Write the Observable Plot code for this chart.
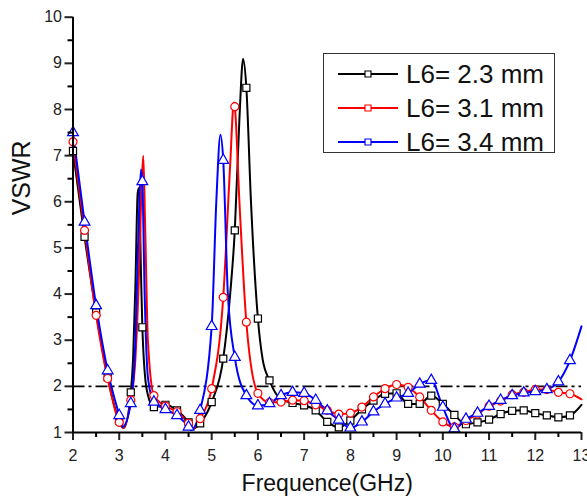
<!DOCTYPE html>
<html>
<head>
<meta charset="utf-8">
<script src="https://cdn.jsdelivr.net/npm/d3@7"></script>
<script src="https://cdn.jsdelivr.net/npm/@observablehq/plot@0.6"></script>
<style>
  html, body { margin: 0; padding: 0; background: #fff; }
  #wrap { position: relative; width: 587px; height: 499px; font-family: "Liberation Sans", Arial, sans-serif; }
  #legend { position: absolute; left: 323px; top: 53px; width: 230px; height: 98px; border: 1.5px solid #333; background: #fff; }
  .row { position: absolute; left: 0; height: 34px; width: 230px; }
  .row svg { position: absolute; left: 13px; top: 0; }
  .row span { position: absolute; left: 82px; top: 2px; font-size: 26px; line-height: 30px; color: #111; white-space: nowrap; }
</style>
</head>
<body>
<div id="wrap"></div>
<script>
// ---- data ----
const seriesNames = ["L6= 2.3 mm", "L6= 3.1 mm", "L6= 3.4 mm"];
const seriesColors = ["#000000", "#ff0000", "#0000ff"];
const seriesSymbols = ["square", "circle", "triangle"];

const freq23 = [2.0, 2.25, 2.5, 2.75, 3.0, 3.1, 3.25, 3.3, 3.35, 3.4, 3.43, 3.47, 3.5, 3.6, 3.75, 4.0, 4.25, 4.5, 4.6, 4.75, 5.0, 5.25, 5.4, 5.5, 5.6, 5.68, 5.75, 5.85, 6.0, 6.1, 6.25, 6.5, 6.75, 7.0, 7.25, 7.5, 7.75, 8.0, 8.25, 8.5, 8.75, 9.0, 9.25, 9.5, 9.75, 10.0, 10.25, 10.5, 10.75, 11.0, 11.25, 11.5, 11.75, 12.0, 12.25, 12.5, 12.75, 13.0];
const vswr23 = [7.1, 5.24, 3.6, 2.2, 1.25, 1.1, 1.87, 2.6, 4.2, 6.2, 6.3, 4.5, 3.28, 1.9, 1.55, 1.6, 1.48, 1.22, 1.08, 1.2, 1.66, 2.6, 4.0, 5.38, 7.8, 9.1, 8.47, 6.0, 3.47, 2.6, 2.13, 1.72, 1.64, 1.59, 1.48, 1.23, 1.11, 1.26, 1.5, 1.69, 1.84, 1.85, 1.62, 1.62, 1.8, 1.62, 1.38, 1.18, 1.22, 1.28, 1.4, 1.47, 1.48, 1.42, 1.37, 1.33, 1.37, 1.6];

const freq31 = [2.0, 2.25, 2.5, 2.75, 3.0, 3.08, 3.25, 3.35, 3.42, 3.48, 3.52, 3.56, 3.62, 3.75, 4.0, 4.25, 4.5, 4.6, 4.75, 5.0, 5.25, 5.4, 5.48, 5.5, 5.6, 5.75, 6.0, 6.25, 6.5, 6.75, 7.0, 7.25, 7.5, 7.75, 8.0, 8.25, 8.5, 8.75, 9.0, 9.25, 9.5, 9.75, 10.0, 10.25, 10.5, 10.75, 11.0, 11.25, 11.5, 11.75, 12.0, 12.25, 12.5, 12.75, 13.0];
const vswr31 = [7.3, 5.38, 3.54, 2.17, 1.22, 1.1, 1.7, 2.6, 4.2, 6.2, 7.0, 5.5, 3.0, 1.8, 1.57, 1.45, 1.2, 1.08, 1.3, 1.95, 3.93, 6.8, 8.15, 8.06, 6.0, 3.39, 1.85, 1.65, 1.66, 1.7, 1.69, 1.6, 1.48, 1.4, 1.42, 1.55, 1.77, 1.95, 2.04, 1.98, 1.77, 1.48, 1.23, 1.12, 1.26, 1.4, 1.57, 1.68, 1.82, 1.87, 1.93, 1.93, 1.87, 1.84, 1.72];

const freq34 = [2.0, 2.25, 2.5, 2.75, 3.0, 3.07, 3.25, 3.35, 3.42, 3.47, 3.5, 3.55, 3.62, 3.75, 4.0, 4.25, 4.5, 4.55, 4.75, 5.0, 5.1, 5.19, 5.25, 5.35, 5.5, 5.75, 6.0, 6.25, 6.5, 6.75, 7.0, 7.25, 7.5, 7.75, 8.0, 8.25, 8.5, 8.75, 9.0, 9.25, 9.5, 9.75, 10.0, 10.25, 10.5, 10.75, 11.0, 11.25, 11.5, 11.75, 12.0, 12.25, 12.5, 12.75, 13.0];
const vswr34 = [7.5, 5.56, 3.75, 2.34, 1.37, 1.12, 1.63, 3.0, 5.5, 6.7, 6.44, 4.0, 2.2, 1.66, 1.5, 1.37, 1.12, 1.05, 1.48, 3.3, 6.0, 7.45, 6.9, 4.0, 2.63, 1.8, 1.58, 1.63, 1.8, 1.87, 1.85, 1.7, 1.47, 1.27, 1.1, 1.23, 1.45, 1.62, 1.75, 1.85, 2.05, 2.13, 1.55, 1.08, 1.29, 1.42, 1.57, 1.7, 1.8, 1.86, 1.89, 1.93, 2.1, 2.56, 3.3];

const xTicks = [2, 3, 4, 5, 6, 7, 8, 9, 10, 11, 12, 13];
const yTicks = [1, 2, 3, 4, 5, 6, 7, 8, 9, 10];
const refLevel = [2];

// ---- build table ----
const freqs = [freq23, freq31, freq34];
const vals = [vswr23, vswr31, vswr34];
const rows = [];
seriesNames.forEach((s, i) => {
  freqs[i].forEach((f, j) => rows.push({series: s, f, v: vals[i][j]}));
});
const isMarker = f => Math.abs(f * 4 - Math.round(f * 4)) < 1e-6 && f < 12.9;
const markerRows = rows.filter(d => isMarker(d.f));

const font = "'Liberation Sans', Arial, sans-serif";

const chart = Plot.plot({
  width: 587,
  height: 499,
  marginLeft: 72.5,
  marginRight: 6,
  marginTop: 16.7,
  marginBottom: 67,
  style: {fontFamily: font, background: "white", overflow: "visible"},
  x: {domain: [2, 13]},
  y: {domain: [1, 10]},
  color: {domain: seriesNames, range: seriesColors},
  symbol: {domain: seriesNames, range: seriesSymbols},
  marks: [
    Plot.ruleY(refLevel, {stroke: "black", strokeWidth: 1.6, strokeDasharray: "12,4,3,4"}),
    Plot.line(rows, {x: "f", y: "v", z: "series", stroke: "series", strokeWidth: 2, curve: "monotone-x"}),
    Plot.dot(markerRows, {x: "f", y: "v", symbol: "series", stroke: "series", fill: "white", r: 4, strokeWidth: 1.2}),
    Plot.axisX({ticks: xTicks, tickSize: 8, tickPadding: 9, fontSize: 16, strokeWidth: 2, label: null, color: "#222"}),
    Plot.axisX({ticks: d3.range(2.5, 13, 1), tickSize: 5, tickFormat: () => "", strokeWidth: 2, label: null}),
    Plot.axisY({ticks: yTicks, tickSize: 8, tickPadding: 3, fontSize: 16, strokeWidth: 2, label: null, color: "#222"}),
    Plot.axisY({ticks: d3.range(1.5, 10, 1), tickSize: 5, tickFormat: () => "", strokeWidth: 2, label: null}),
    Plot.ruleX([2], {stroke: "black", strokeWidth: 2}),
    Plot.ruleY([1], {stroke: "black", strokeWidth: 2}),
    Plot.text(["Frequence(GHz)"], {frameAnchor: "bottom", textAnchor: "middle", lineAnchor: "middle", dy: 51, fontSize: 23, fill: "#111"}),
    Plot.text(["VSWR"], {frameAnchor: "left", textAnchor: "middle", lineAnchor: "middle", rotate: -90, dx: -51, dy: -47, fontSize: 25, fill: "#111"})
  ]
});

const wrap = document.getElementById("wrap");
wrap.appendChild(chart);

// ---- legend overlay ----
const legend = document.createElement("div");
legend.id = "legend";
const ns = "http://www.w3.org/2000/svg";
seriesNames.forEach((name, i) => {
  const row = document.createElement("div");
  row.className = "row";
  row.style.top = (3 + i * 34) + "px";
  const svg = document.createElementNS(ns, "svg");
  svg.setAttribute("width", 64);
  svg.setAttribute("height", 34);
  const line = document.createElementNS(ns, "line");
  line.setAttribute("x1", 1); line.setAttribute("x2", 61);
  line.setAttribute("y1", 17); line.setAttribute("y2", 17);
  line.setAttribute("stroke", seriesColors[i]); line.setAttribute("stroke-width", 2);
  svg.appendChild(line);
  const sym = d3.symbol().type(Plot.symbol ? Plot.symbol(seriesSymbols[i]) : d3.symbolSquare).size(36);
  const p = document.createElementNS(ns, "path");
  p.setAttribute("d", sym());
  p.setAttribute("transform", "translate(31,17)");
  p.setAttribute("fill", "white");
  p.setAttribute("stroke", seriesColors[i]);
  p.setAttribute("stroke-width", 1.2);
  svg.appendChild(p);
  row.appendChild(svg);
  const t = document.createElement("span");
  t.textContent = name;
  row.appendChild(t);
  legend.appendChild(row);
});
wrap.appendChild(legend);
</script>
</body>
</html>
